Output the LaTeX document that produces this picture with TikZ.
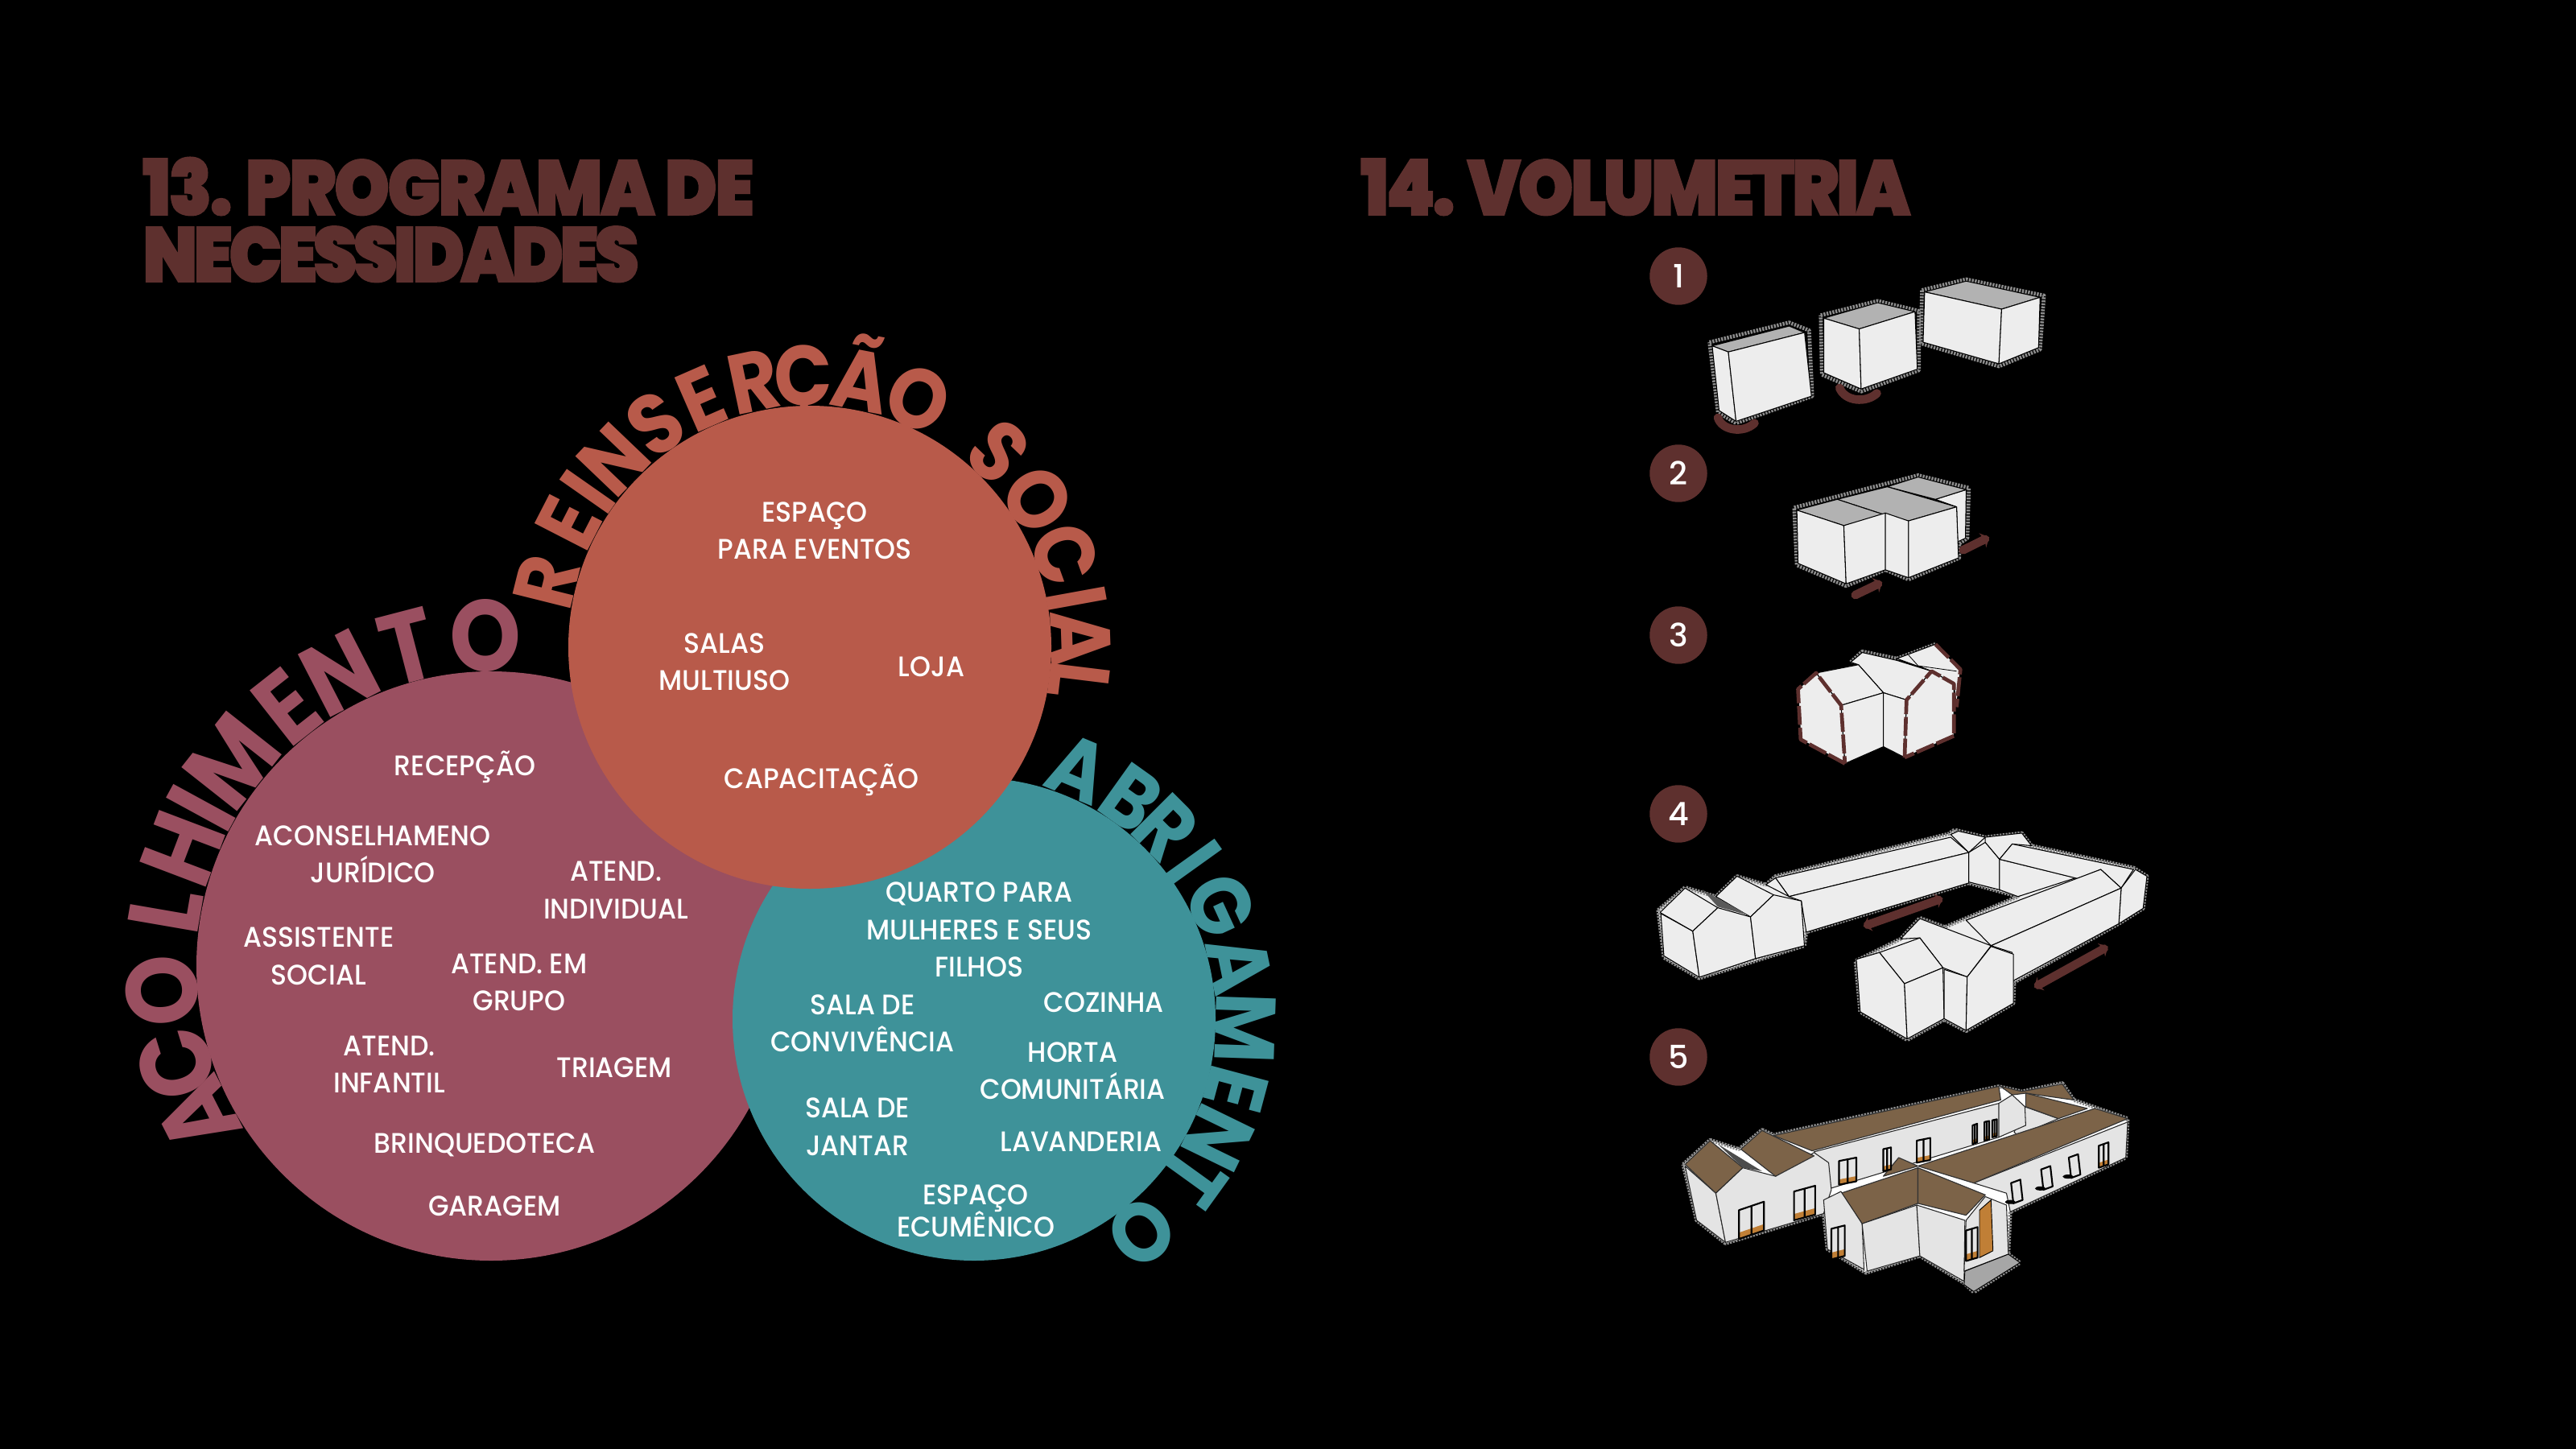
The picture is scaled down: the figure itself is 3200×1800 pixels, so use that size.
\documentclass[tikz,border=0pt]{standalone}
\usepackage{fontspec}
\usetikzlibrary{arrows.meta}
\newfontfamily\bodyf[FakeStretch=0.94]{Poppins Medium}
\newfontfamily\ringf[FakeStretch=0.9]{Poppins Bold}
\newfontfamily\titlef[FakeStretch=0.91,LetterSpace=-2.7,FakeBold=1.6]{Poppins Black}
\newfontfamily\titlefb[FakeStretch=0.91,LetterSpace=-5,FakeBold=1.6]{Poppins Black}
\newfontfamily\titlefc[FakeStretch=0.91,LetterSpace=-3.7,FakeBold=1.6]{Poppins Black}
\newfontfamily\numf{Poppins Medium}
\definecolor{maroon}{HTML}{9A4F60}
\definecolor{terra}{HTML}{B85A4A}
\definecolor{teal2}{HTML}{3E9299}
\definecolor{brownt}{HTML}{5E302E}
\definecolor{facec}{HTML}{EDEDED}
\definecolor{topc}{HTML}{B2B2B2}
\definecolor{roofc}{HTML}{7C6348}
\definecolor{wallc}{HTML}{E4E4E4}
\definecolor{orangec}{HTML}{C07F36}
\tikzset{
 lbl/.style={text=white,inner sep=0pt,align=center,font=\bodyf\fontsize{30}{39.5}\selectfont},
 titlelbl/.style={text=brownt,inner sep=0pt,anchor=base west},
 numlbl/.style={circle,fill=brownt,minimum size=61pt,inner sep=0pt,text=white,font=\numf\fontsize{34}{34}\selectfont},
 face/.style={fill=facec,draw=black,line width=0.9pt,line join=round},
 topf/.style={fill=topc,draw=black,line width=0.9pt,line join=round},
 roof/.style={fill=roofc,draw=black!80,line width=1pt,line join=round},
 wall/.style={fill=wallc,draw=black!85,line width=0.9pt,line join=round},
 sketch/.style={draw=black!45,line width=4pt,dash pattern=on 2pt off 1.2pt,line join=round},
 redline/.style={draw=brownt,line width=4pt,dash pattern=on 20pt off 3pt,line join=round},
 movearrow/.style={draw=brownt,line width=9pt,line cap=round},
 winf/.style={fill=wallc,draw=black,line width=1.8pt,line join=round},
}
\newcommand{\winq}[5]{%
 \pgfmathsetmacro{\xb}{#1+#3}\pgfmathsetmacro{\yb}{#2+#5}\pgfmathsetmacro{\yc}{#4+#5}%
 \pgfmathsetmacro{\yd}{#2+0.78*#5}\pgfmathsetmacro{\ye}{#4+0.78*#5}%
 \pgfmathsetmacro{\xm}{#1+0.5*#3}\pgfmathsetmacro{\ym}{0.5*#2+0.5*#4}\pgfmathsetmacro{\yn}{\ym+#5}%
 \fill[wallc] (#1,#2)--(\xb,#4)--(\xb,\yc)--(#1,\yb)--cycle;
 \fill[orangec] (#1,\yd)--(\xb,\ye)--(\xb,\yc)--(#1,\yb)--cycle;
 \draw[black,line width=1.8pt,line join=round] (#1,#2)--(\xb,#4)--(\xb,\yc)--(#1,\yb)--cycle (\xm,\ym)--(\xm,\yn);
}
\newcommand{\tiltwin}[2]{%
 \begin{scope}[shift={(#1,#2)}]
 \draw[winf] (0,0)--(24,-10)--(30,50)--(6,60)--cycle;
 \fill[black] (-2,56) ellipse (14 and 6);
 \end{scope}
}
\begin{document}
\begin{tikzpicture}[x=0.03cm,y=-0.03cm]
\useasboundingbox (0,0) rectangle (3200,1800);
\fill[black] (0,0) rectangle (3200,1800);

\node[titlelbl,font=\titlef\fontsize{82}{82}\selectfont] (t13a) at (177,267) {13. PROGRAMA DE};
\node[titlelbl,font=\titlefb\fontsize{82}{82}\selectfont] (t13b) at (177,350) {NECESSIDADES};
\node[titlelbl,font=\titlefc\fontsize{82}{82}\selectfont] (t14) at (1690,267) {14. VOLUMETRIA};

\fill[maroon] (610,1200) circle (366);
\fill[teal2] (1210,1266) circle (300);
\fill[terra] (1006,804) circle (300);

\foreach \c/\a [count=\i] in {A/207.1,C/197.2,O/184.3,L/170.2,H/159.2,I/151.4,M/141.7,E/128.2,N/117.3,T/104.6,O/91}
 \node[text=maroon,inner sep=0pt,anchor=base,rotate=\a-90,font=\ringf\fontsize{107}{107}\selectfont] (ac\i) at ({610+366*cos(\a)},{1200-366*sin(\a)}) {\c};
\foreach \c/\a [count=\i] in {R/166,E/152.8,I/145,N/136.3,S/124.7,E/113.6,R/101.9,Ç/91.4,Ã/79,O/66.4,S/46,O/33,C/20,I/10.3,A/1.9,L/-7}
 \node[text=terra,inner sep=0pt,anchor=base,rotate=\a-90,font=\ringf\fontsize{90}{90}\selectfont] (re\i) at ({1006+300*cos(\a)},{804-300*sin(\a)}) {\c};
\foreach \c/\a [count=\i] in {A/67.4,B/54.5,R/45,I/35.6,G/24.7,A/11.6,M/-1.9,E/-15,N/-26,T/-35.8,O/-51.8}
 \node[text=teal2,inner sep=0pt,anchor=base,rotate=\a-90,font=\ringf\fontsize{90}{90}\selectfont] (ab\i) at ({1210+300*cos(\a)},{1266-300*sin(\a)}) {\c};

\begin{scope}[shift={(0,2)},x=0.061224cm,y=-0.061224cm]
\node[lbl] (l1) at (496,322) {ESPAÇO\\PARA EVENTOS};
\node[lbl] (l2) at (441,402) {SALAS\\MULTIUSO};
\node[lbl] (l3) at (567,405) {LOJA};
\node[lbl] (l4) at (500,474) {CAPACITAÇÃO};
\node[lbl] (l5) at (283,466) {RECEPÇÃO};
\node[lbl] (l6) at (227,519) {ACONSELHAMENO\\JURÍDICO};
\node[lbl] (l7) at (375,541) {ATEND.\\INDIVIDUAL};
\node[lbl] (l8) at (194,581) {ASSISTENTE\\SOCIAL};
\node[lbl] (l9) at (316,597) {ATEND. EM\\GRUPO};
\node[lbl] (l10) at (237,647) {ATEND.\\INFANTIL};
\node[lbl] (l11) at (374,649) {TRIAGEM};
\node[lbl] (l12) at (295,696) {BRINQUEDOTECA};
\node[lbl] (l13) at (301,733) {GARAGEM};
\node[lbl] (l14) at (596,565) {QUARTO PARA\\MULHERES E SEUS\\FILHOS};
\node[lbl] (l15) at (525,622) {SALA DE\\CONVIVÊNCIA};
\node[lbl] (l16) at (672,609) {COZINHA};
\node[lbl] (l17) at (653,651) {HORTA\\COMUNITÁRIA};
\node[lbl] (l18) at (522,685) {SALA DE\\JANTAR};
\node[lbl] (l19) at (658,694) {LAVANDERIA};
\node[lbl] (l20) at (594,736) {ESPAÇO\\[-5pt]ECUMÊNICO};
\end{scope}

\node[numlbl] (n1) at (2085,343) {1};
\node[numlbl] (n2) at (2085,588) {2};
\node[numlbl] (n3) at (2085,789) {3};
\node[numlbl] (n4) at (2085,1011) {4};
\node[numlbl] (n5) at (2085,1313) {5};

\begin{scope}[shift={(1950,280)},x=0.014349cm,y=-0.013392cm]
\path[sketch] (363,325)--(570,270)--(622,292)--(630,475)--(432,550)--(385,520)--cycle;
\filldraw[topf] (370,335)--(570,280)--(610,298)--(412,352)--cycle;
\filldraw[face] (370,335)--(412,352)--(432,545)--(388,515)--cycle;
\filldraw[face] (412,352)--(610,298)--(628,475)--(432,545)--cycle;
\draw[movearrow] (385,535) .. controls (395,570) and (450,580) .. (480,550);
\path[sketch] (652,250)--(800,210)--(907,238)--(907,403)--(757,462)--(655,415)--cycle;
\filldraw[topf] (660,258)--(800,215)--(897,240)--(752,288)--cycle;
\filldraw[face] (660,258)--(752,288)--(757,455)--(660,410)--cycle;
\filldraw[face] (752,288)--(897,240)--(903,400)--(757,455)--cycle;
\draw[movearrow] (701,452) .. controls (715,490) and (770,495) .. (798,467);
\path[sketch] (915,180)--(1030,150)--(1232,195)--(1222,345)--(1115,392)--(912,328)--cycle;
\filldraw[topf] (922,185)--(1030,155)--(1222,200)--(1122,233)--cycle;
\filldraw[face] (922,185)--(1122,233)--(1115,385)--(918,325)--cycle;
\filldraw[face] (1122,233)--(1222,200)--(1218,340)--(1115,385)--cycle;
\path[sketch] (583,785)--(905,695)--(1037,730)--(1033,870)--(1012,885)--(1012,925)--(880,985)--(820,958)--(718,1003)--(590,945)--cycle;
\filldraw[face] (950,762)--(1030,735)--(1028,870)--(1008,880)--(1005,783)--cycle;
\filldraw[topf] (825,727)--(905,700)--(1030,735)--(950,762)--cycle;
\filldraw[topf] (695,762)--(825,727)--(1005,783)--(880,822)--(818,805)--cycle;
\filldraw[topf] (590,792)--(695,762)--(818,805)--(712,835)--cycle;
\filldraw[face] (590,792)--(712,835)--(718,997)--(593,940)--cycle;
\filldraw[face] (712,835)--(820,800)--(820,958)--(718,997)--cycle;
\filldraw[face] (820,800)--(880,822)--(880,980)--(820,958)--cycle;
\filldraw[face] (880,822)--(1005,783)--(1010,925)--(880,980)--cycle;
\draw[movearrow,-{Stealth[length=8pt,width=17pt]}] (742,1028)--(812,992);
\draw[movearrow,-{Stealth[length=8pt,width=17pt]}] (1022,903)--(1090,867);
\path[sketch] (730,1215)--(760,1185)--(850,1205)--(950,1165);
\filldraw[face] (850,1205)--(950,1165)--(1015,1235)--(1005,1340)--(998,1275)--(940,1240)--cycle;
\draw[black,line width=.7pt] (880,1195)--(905,1225)--(965,1250) (905,1225)--(1005,1240);
\filldraw[face] (750,1222)--(730,1215)--(760,1188)--(850,1210)--(940,1240)--(875,1320)--(815,1300)--cycle;
\filldraw[face] (640,1245)--(750,1222)--(815,1300)--(705,1335)--cycle;
\filldraw[face] (593,1290)--(640,1245)--(705,1335)--(715,1497)--(600,1430)--cycle;
\filldraw[face] (705,1335)--(815,1300)--(815,1450)--(715,1497)--cycle;
\filldraw[face] (815,1300)--(875,1320)--(870,1480)--(815,1450)--cycle;
\filldraw[face] (875,1320)--(940,1240)--(998,1275)--(998,1420)--(870,1480)--cycle;
\path[redline] (715,1497)--(600,1430)--(593,1290)--(640,1245)--(705,1335)--(715,1497);
\path[redline] (870,1480)--(875,1320)--(940,1240)--(998,1275)--(998,1420)--cycle;
\path[redline] (950,1165)--(1015,1235)--(1005,1340);
\end{scope}

\begin{scope}[shift={(2000,960)},x=0.014349cm,y=-0.012627cm]
\path[sketch,fill=facec] (125,405)--(195,338)--(275,365)--(330,305)--(405,330)--(430,305)--(880,180)--(895,168)--(975,190)--(1070,178)--(1095,215)--(1360,280)--(1395,305)--(1385,400)--(1322,445)--(1050,618)--(1048,680)--(925,762)--(868,728)--(772,788)--(650,705)--(638,555)--(755,490)--(805,428)--(870,455)--(1060,365)--(932,325)--(510,470)--(505,510)--(232,606)--(140,545)--cycle;
\filldraw[face] (932,235)--(975,205)--(1012,255)--(1012,345)--(932,322)--cycle;
\filldraw[face] (885,182)--(905,172)--(975,190)--(932,235)--cycle;
\filldraw[face] (975,205)--(975,190)--(1070,178)--(1095,215)--(1045,210)--(1012,255)--cycle;
\filldraw[face] (1012,255)--(1210,310)--(1060,365)--(1012,345)--cycle;
\filldraw[face] (1045,210)--(1360,285)--(1328,340)--(1275,285)--(1215,312)--(1012,255)--cycle;
\filldraw[face] (430,310)--(885,190)--(932,235)--(465,365)--cycle;
\filldraw[face] (405,330)--(430,310)--(465,365)--cycle;
\filldraw[face] (465,365)--(932,235)--(932,325)--(510,470)--(497,378)--cycle;
\filldraw[face] (275,365)--(330,305)--(425,360)--(365,425)--cycle;
\fill[black!65] (240,345)--(360,420)--(280,395)--cycle;
\filldraw[face] (132,415)--(215,467)--(232,603)--(140,540)--cycle;
\filldraw[face] (130,412)--(195,340)--(280,398)--(215,467)--cycle;
\filldraw[face] (215,467)--(280,398)--(365,425)--(378,548)--(232,603)--cycle;
\filldraw[face] (365,425)--(425,360)--(497,378)--(505,510)--(378,548)--cycle;
\filldraw[face] (1328,340)--(1365,285)--(1395,305)--(1385,400)--(1322,445)--cycle;
\filldraw[face] (925,435)--(1275,285)--(1328,340)--(990,510)--cycle;
\filldraw[face] (990,510)--(1328,340)--(1322,445)--(1045,615)--(1045,530)--cycle;
\filldraw[face] (755,490)--(805,430)--(990,510)--(928,602)--(865,575)--(805,487)--cycle;
\filldraw[face] (700,530)--(805,487)--(865,575)--(765,622)--cycle;
\filldraw[face] (640,550)--(700,530)--(765,622)--(772,785)--(650,705)--cycle;
\filldraw[face] (765,622)--(865,575)--(868,725)--(772,785)--cycle;
\filldraw[face] (868,580)--(928,602)--(925,760)--(868,725)--cycle;
\filldraw[face] (928,602)--(990,512)--(1048,535)--(1048,680)--(925,760)--cycle;
\draw[movearrow,{Stealth[length=8pt,width=16pt]}-{Stealth[length=8pt,width=16pt]}] (658,453)--(865,370);
\draw[movearrow,{Stealth[length=8pt,width=16pt]}-{Stealth[length=8pt,width=16pt]}] (1102,633)--(1294,512);
\path[sketch,fill=white] (190,1155)--(260,1083)--(335,1110)--(395,1053)--(425,1068)--(1010,925)--(1070,940)--(1175,915)--(1205,965)--(1345,1020)--(1340,1135)--(1040,1295)--(1035,1420)--(1065,1445)--(945,1532)--(920,1505)--(805,1425)--(665,1475)--(565,1405)--(555,1300)--(300,1388)--(225,1320)--cycle;
\filldraw[wall] (1078,985)--(1165,1020)--(1060,1070)--(1050,1060)--cycle;
\filldraw[roof] (1015,925)--(1070,940)--(1175,918)--(1205,965)--(1080,945)--(1045,950)--cycle;
\filldraw[roof] (1080,945)--(1240,990)--(1165,1020)--(1080,985)--cycle;
\filldraw[wall] (1010,975)--(1045,950)--(1078,985)--(1080,1040)--(1010,1075)--cycle;
\filldraw[roof] (425,1070)--(1010,925)--(1015,965)--(525,1115)--cycle;
\filldraw[wall] (530,1118)--(1010,975)--(1010,1075)--(575,1225)--cycle;
\filldraw[wall] (195,1160)--(275,1240)--(300,1385)--(225,1320)--cycle;
\filldraw[roof] (195,1155)--(260,1085)--(345,1165)--(275,1240)--cycle;
\filldraw[wall] (275,1240)--(345,1165)--(430,1190)--(530,1120)--(568,1150)--(575,1230)--(555,1300)--(300,1385)--cycle;
\filldraw[roof] (340,1110)--(395,1055)--(530,1130)--(430,1190)--cycle;
\fill[black!70] (280,1095)--(395,1175)--(345,1165)--cycle;
\filldraw[wall] (945,1210)--(1345,1030)--(1340,1135)--(1040,1295)--(1030,1240)--cycle;
\filldraw[roof] (1260,990)--(1345,1020)--(945,1210)--(800,1160)--cycle;
\filldraw[roof] (750,1135)--(800,1160)--(710,1190)--cycle;
\filldraw[roof] (600,1240)--(800,1165)--(800,1270)--(655,1330)--cycle;
\filldraw[roof] (800,1165)--(975,1245)--(925,1305)--(800,1270)--cycle;
\filldraw[wall] (555,1260)--(600,1235)--(655,1330)--(660,1465)--(565,1405)--cycle;
\filldraw[wall] (655,1330)--(797,1275)--(805,1425)--(668,1470)--cycle;
\filldraw[wall] (797,1275)--(922,1320)--(920,1500)--(805,1425)--cycle;
\filldraw[wall] (975,1250)--(1030,1275)--(1035,1420)--(920,1470)--(925,1320)--cycle;
\filldraw[fill=orangec,draw=black,line width=.8pt] (960,1290)--(990,1260)--(995,1410)--(960,1430)--cycle;
\filldraw[fill=black!35,draw=black,line width=.8pt] (922,1470)--(1035,1420)--(1065,1445)--(945,1530)--(920,1510)--cycle;
\winq{595}{1145}{45}{1135}{70}
\winq{710}{1110}{20}{1105}{65}
\winq{797}{1085}{35}{1077}{65}
\winq{942}{1040}{12}{1035}{55}
\winq{973}{1030}{12}{1027}{55}
\winq{993}{1025}{12}{1022}{50}
\winq{1270}{1100}{25}{1090}{65}
\winq{335}{1290}{65}{1265}{85}
\winq{478}{1235}{55}{1218}{85}
\winq{575}{1345}{35}{1335}{90}
\winq{925}{1350}{30}{1340}{90}
\tiltwin{1042}{1210}
\tiltwin{1120}{1170}
\tiltwin{1192}{1135}
\end{scope}
\end{tikzpicture}
\end{document}
